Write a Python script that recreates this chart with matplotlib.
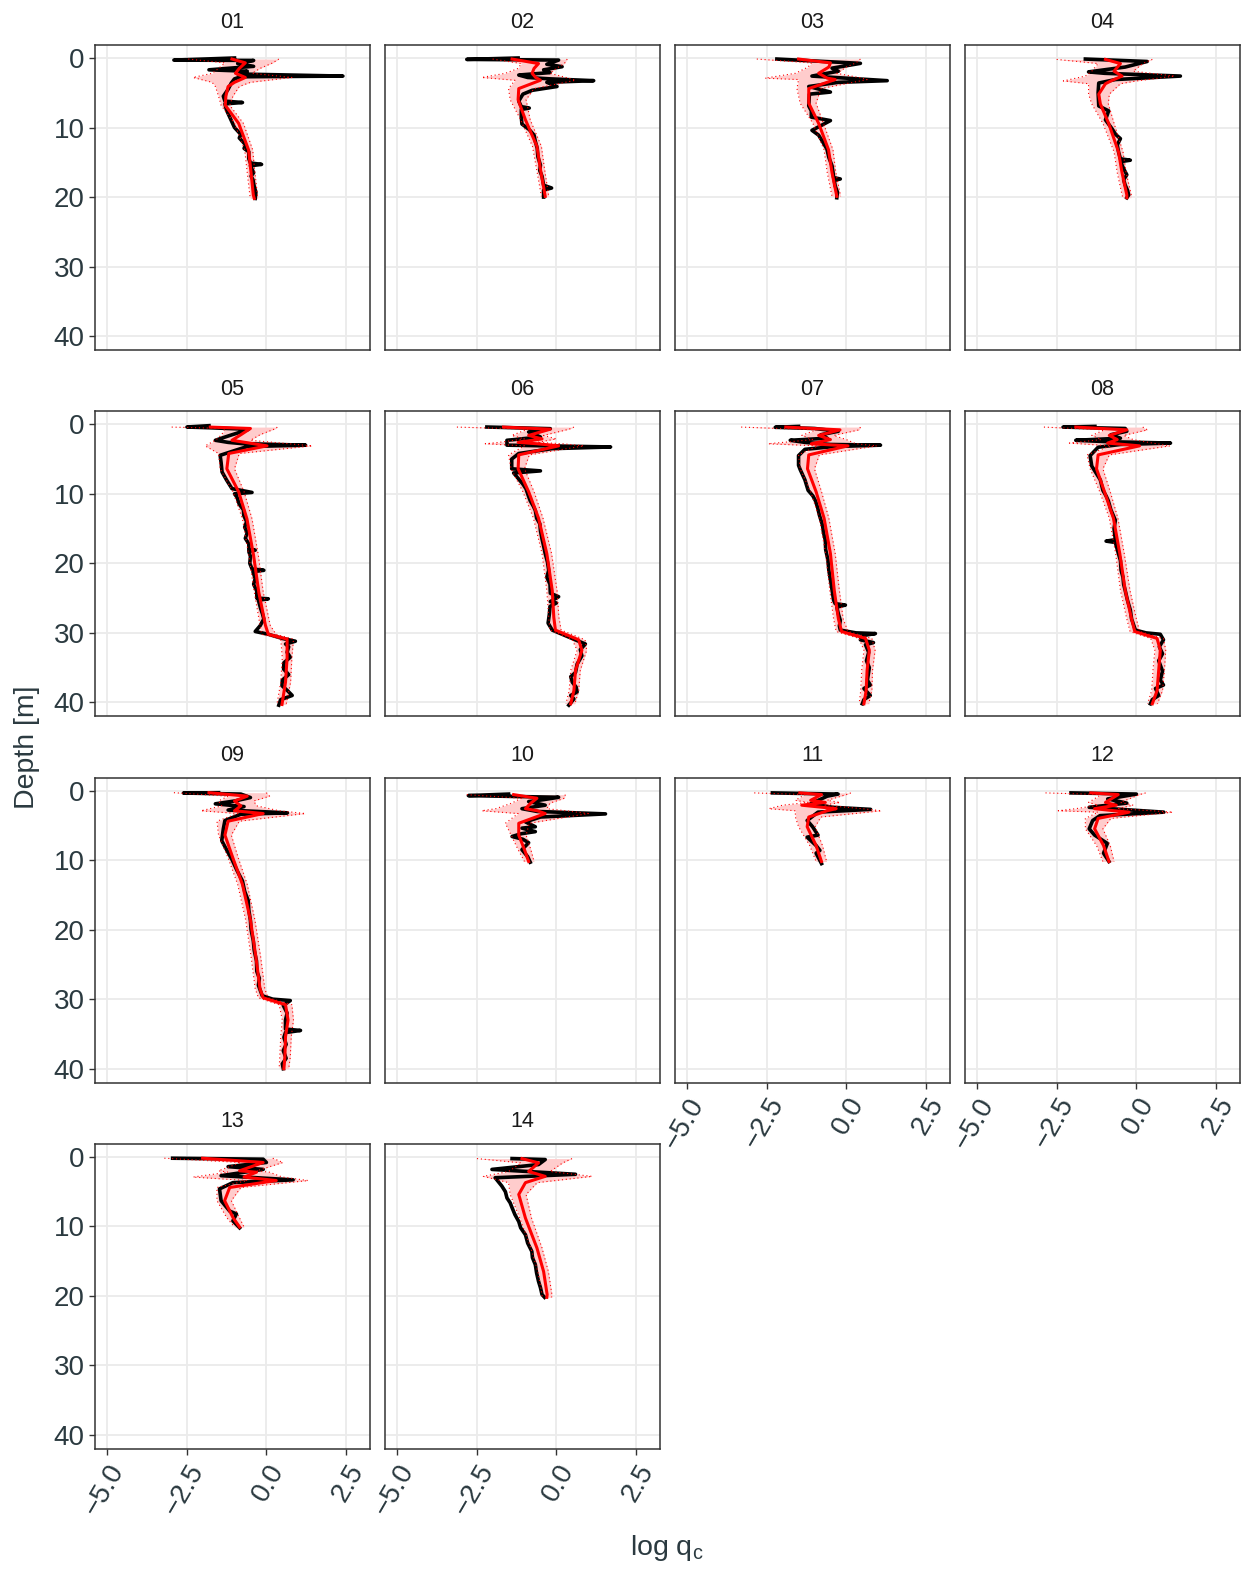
import matplotlib.pyplot as plt

plt.rcParams['font.family'] = ['Liberation Sans', 'DejaVu Sans']

panels = ['01', '02', '03', '04', '05', '06', '07', '08', '09', '10', '11', '12', '13', '14']

# measured log qc (black) -- depth [m], value
d01 = [0.0, 0.3, 0.35, 0.8, 1.2, 1.7, 1.9, 2.3, 2.6, 2.7, 3.0, 3.6, 4.5, 5.5, 6.2, 6.4, 6.6, 7.5, 8.5, 10.0, 11.0, 11.5, 12.5, 13.0, 13.5, 14.5, 15.1, 15.3, 15.5, 16.5, 17.0, 17.5, 18.5, 19.3, 20.2]
q01 = [-1.0, -2.9, -0.4, -0.9, -0.4, -1.8, -0.6, -0.9, 2.4, -0.8, -1.0, -1.1, -1.2, -1.35, -1.3, -0.75, -1.3, -1.25, -1.15, -1.0, -0.8, -0.85, -0.65, -0.7, -0.55, -0.55, -0.5, -0.15, -0.5, -0.4, -0.48, -0.42, -0.38, -0.33, -0.35]
d02 = [0.0, 0.2, 0.3, 0.9, 1.25, 1.7, 2.1, 2.45, 2.8, 3.0, 3.26, 3.5, 4.1, 4.65, 5.2, 6.2, 7.0, 7.2, 7.4, 8.5, 9.5, 10.3, 11.1, 12.0, 13.0, 14.2, 15.4, 16.2, 17.0, 18.3, 18.7, 19.0, 20.0]
q02 = [-1.2, -2.81, 0.07, -0.3, 0.18, -0.4, -0.2, -1.18, -0.9, -0.2, 1.17, -0.3, 0.02, -0.76, -1.05, -1.18, -1.1, -0.85, -1.1, -1.1, -1.08, -0.85, -0.7, -0.66, -0.6, -0.58, -0.5, -0.52, -0.45, -0.4, -0.15, -0.4, -0.4]
d03 = [0.15, 0.77, 1.46, 1.9, 2.6, 3.26, 3.5, 4.1, 4.9, 5.2, 6.9, 7.6, 8.5, 9.0, 9.9, 10.4, 11.1, 12.0, 13.1, 14.3, 15.5, 16.4, 17.2, 17.4, 17.6, 18.4, 19.3, 20.1]
q03 = [-2.18, 0.44, -0.45, -0.25, -1.08, 1.28, -0.25, -1.18, -0.5, -1.16, -1.18, -1.1, -1.1, -0.5, -0.87, -1.08, -0.87, -0.75, -0.61, -0.55, -0.45, -0.42, -0.4, -0.19, -0.38, -0.35, -0.28, -0.3]
d04 = [0.15, 0.5, 1.3, 2.0, 2.2, 2.6, 3.1, 3.6, 5.0, 6.9, 7.6, 8.9, 10.2, 11.0, 11.6, 12.5, 13.5, 14.5, 14.7, 14.9, 15.4, 16.1, 16.8, 17.5, 18.3, 19.0, 19.7, 20.1]
q04 = [-1.6, 0.34, -0.35, -1.5, -1.0, 1.38, -0.66, -1.18, -1.2, -1.18, -0.87, -0.97, -0.76, -0.65, -0.5, -0.6, -0.56, -0.5, -0.19, -0.48, -0.45, -0.38, -0.3, -0.4, -0.35, -0.28, -0.24, -0.3]
d05 = [0.2, 0.39, 0.5, 0.72, 1.1, 1.58, 2.3, 2.6, 2.78, 3.0, 3.2, 3.74, 4.46, 5.5, 6.86, 8.0, 9.25, 9.8, 10.0, 10.5, 11.5, 12.3, 13.1, 14.0, 14.8, 15.6, 16.4, 17.2, 18.0, 18.1, 18.3, 19.0, 20.0, 20.8, 21.0, 21.2, 22.2, 23.0, 24.0, 25.0, 25.1, 25.3, 26.5, 27.3, 28.0, 29.0, 29.8, 30.2, 30.8, 31.2, 31.6, 32.0, 32.8, 33.5, 34.3, 35.2, 36.0, 36.8, 37.6, 38.3, 39.0, 39.6, 40.4]
q05 = [-1.8, -2.49, -1.76, -0.56, -0.8, -1.13, -1.6, -1.2, -0.76, 1.23, -0.6, -0.97, -1.45, -1.42, -1.39, -1.25, -1.08, -0.45, -1.0, -0.92, -0.85, -0.72, -0.71, -0.62, -0.68, -0.6, -0.66, -0.55, -0.55, -0.35, -0.55, -0.5, -0.52, -0.45, -0.08, -0.42, -0.35, -0.4, -0.3, -0.3, 0.06, -0.25, -0.18, -0.12, -0.08, -0.2, -0.35, 0.06, 0.5, 0.91, 0.6, 0.7, 0.65, 0.75, 0.55, 0.54, 0.7, 0.5, 0.49, 0.66, 0.81, 0.45, 0.39]
d06 = [0.39, 0.63, 1.1, 1.82, 2.3, 3.0, 3.26, 3.5, 4.2, 5.0, 6.4, 6.7, 7.0, 8.6, 9.3, 10.0, 11.0, 11.8, 12.4, 13.5, 14.3, 15.3, 16.5, 17.5, 18.6, 19.8, 21.0, 22.0, 23.0, 24.3, 24.8, 25.5, 25.7, 26.2, 27.3, 28.6, 29.6, 30.8, 31.6, 32.4, 33.3, 34.5, 35.7, 36.3, 37.1, 37.8, 38.5, 39.0, 39.5, 40.4]
q06 = [-2.18, -0.19, -0.87, -0.5, -1.55, -1.55, 1.7, -0.13, -1.18, -1.4, -1.4, -0.5, -1.34, -1.05, -0.95, -0.9, -0.82, -0.72, -0.66, -0.62, -0.52, -0.5, -0.45, -0.4, -0.35, -0.28, -0.24, -0.3, -0.2, -0.19, 0.07, -0.19, 0.0, -0.2, -0.22, -0.26, -0.13, 0.49, 0.91, 0.75, 0.8, 0.65, 0.6, 0.45, 0.5, 0.62, 0.65, 0.45, 0.55, 0.39]
d07 = [0.3, 0.43, 0.6, 1.0, 1.5, 2.0, 2.3, 2.6, 2.9, 3.0, 3.2, 3.6, 4.5, 5.9, 6.5, 8.0, 9.5, 10.3, 11.0, 12.0, 13.0, 14.5, 15.5, 16.7, 18.0, 19.5, 21.0, 22.4, 23.8, 25.3, 25.8, 26.0, 26.3, 27.3, 28.2, 29.0, 29.6, 30.0, 30.1, 30.4, 31.0, 31.4, 31.7, 32.8, 34.0, 35.0, 36.8, 37.5, 38.0, 39.0, 39.6, 40.2]
q07 = [-1.5, -2.23, -1.0, -0.25, -0.8, -0.6, -1.76, -1.3, -0.5, 1.07, -0.4, -1.3, -1.5, -1.5, -1.45, -1.3, -1.2, -1.05, -0.97, -0.9, -0.85, -0.75, -0.72, -0.66, -0.65, -0.58, -0.55, -0.5, -0.45, -0.4, -0.35, -0.03, -0.3, -0.25, -0.19, -0.22, -0.19, 0.3, 0.91, 0.5, 0.44, 0.85, 0.6, 0.7, 0.63, 0.72, 0.66, 0.75, 0.55, 0.75, 0.55, 0.5]
d08 = [0.3, 0.4, 0.6, 1.0, 1.5, 2.0, 2.3, 2.5, 2.7, 2.9, 3.3, 4.5, 6.0, 8.0, 9.5, 10.3, 11.0, 12.3, 13.8, 15.0, 16.6, 16.8, 17.0, 18.3, 19.6, 21.0, 22.0, 23.0, 23.9, 25.3, 26.7, 28.0, 29.6, 30.0, 30.2, 31.0, 32.0, 33.0, 34.0, 35.5, 36.8, 37.5, 38.0, 39.0, 39.6, 40.2]
q08 = [-1.3, -2.3, -0.35, -0.3, -0.8, -0.5, -1.9, -0.9, 1.07, -0.5, -1.2, -1.45, -1.4, -1.13, -1.05, -0.95, -0.88, -0.8, -0.66, -0.7, -0.66, -0.95, -0.66, -0.58, -0.5, -0.48, -0.42, -0.4, -0.35, -0.28, -0.19, -0.15, -0.03, 0.3, 0.75, 0.85, 0.72, 0.82, 0.7, 0.82, 0.75, 0.85, 0.6, 0.7, 0.5, 0.44]
d09 = [0.3, 0.35, 0.5, 1.0, 1.5, 1.9, 2.3, 2.8, 3.2, 3.4, 4.3, 5.5, 7.2, 8.5, 10.0, 11.5, 13.0, 14.5, 15.8, 17.2, 18.7, 20.0, 21.6, 23.0, 24.5, 26.0, 27.0, 28.0, 29.5, 30.0, 30.2, 30.9, 32.0, 33.0, 34.3, 34.5, 34.8, 35.5, 36.5, 37.4, 38.5, 39.3, 40.0]
q09 = [-1.5, -2.6, -0.8, -0.5, -1.0, -1.6, -0.7, -1.2, 0.66, -0.8, -1.3, -1.35, -1.4, -1.25, -1.07, -0.92, -0.75, -0.68, -0.57, -0.55, -0.5, -0.48, -0.41, -0.38, -0.31, -0.3, -0.22, -0.25, -0.13, 0.2, 0.75, 0.53, 0.65, 0.6, 0.6, 1.07, 0.6, 0.55, 0.62, 0.53, 0.62, 0.5, 0.53]
d10 = [0.5, 0.72, 0.96, 1.3, 1.58, 2.1, 2.6, 3.0, 3.35, 3.8, 4.5, 5.2, 5.4, 5.9, 6.2, 6.6, 7.0, 7.5, 8.5, 9.5, 10.3]
q10 = [-1.5, -2.76, 0.07, -0.4, -0.87, -0.35, -1.08, -0.6, 1.54, -0.5, -0.97, -0.66, -1.08, -0.66, -1.1, -1.39, -1.05, -0.87, -1.08, -0.9, -0.82]
d11 = [0.33, 0.5, 0.8, 1.9, 2.4, 2.7, 3.1, 4.3, 5.2, 6.4, 6.7, 7.9, 8.6, 9.0, 10.5]
q11 = [-2.32, -0.26, -0.6, -1.12, -0.43, 0.76, -0.89, -1.23, -1.06, -0.89, -1.23, -0.95, -0.83, -0.95, -0.78]
d12 = [0.33, 0.5, 1.2, 1.8, 2.4, 3.1, 3.6, 4.3, 5.5, 6.4, 7.6, 9.0, 10.2]
q12 = [-2.05, 0.0, -0.9, -0.3, -1.48, 0.86, -1.14, -1.37, -1.48, -1.31, -0.91, -1.03, -0.86]
d13 = [0.19, 0.33, 0.8, 1.4, 1.8, 2.7, 3.3, 3.7, 4.6, 6.3, 7.8, 8.2, 9.2, 10.2]
q13 = [-2.94, -0.1, 0.0, -1.2, -0.1, -1.42, 0.84, -1.05, -1.47, -1.42, -1.15, -0.94, -1.05, -0.84]
d14 = [0.24, 0.38, 1.1, 1.8, 2.5, 3.0, 4.2, 5.0, 5.9, 6.6, 7.3, 8.3, 9.3, 10.2, 11.2, 12.4, 13.6, 14.5, 15.5, 16.7, 17.9, 18.8, 19.8, 20.2]
q14 = [-1.39, -0.35, -0.56, -2.02, 0.6, -1.92, -1.71, -1.6, -1.55, -1.45, -1.39, -1.3, -1.18, -1.12, -0.97, -0.9, -0.77, -0.75, -0.66, -0.62, -0.56, -0.5, -0.45, -0.37]

# predicted mean (red) with lower / upper band
md01 = [0.15, 0.7, 1.5, 2.2, 2.8, 3.5, 4.1, 5.5, 6.8, 9.4, 13.2, 16.5, 19.7, 20.2]
mu01 = [-1.08, -0.66, -0.85, -0.97, -0.66, -1.0, -1.2, -1.27, -1.29, -0.87, -0.56, -0.48, -0.41, -0.38]
lo01 = [-2.45, -1.3, -1.5, -1.7, -2.3, -1.7, -1.6, -1.5, -1.42, -1.0, -0.68, -0.6, -0.52, -0.5]
hi01 = [0.39, 0.2, -0.2, -0.45, 0.8, -0.5, -0.85, -1.05, -1.15, -0.72, -0.43, -0.36, -0.28, -0.27]
md02 = [0.15, 0.8, 1.5, 2.2, 2.8, 3.2, 4.4, 6.0, 8.9, 12.7, 16.0, 19.9]
mu02 = [-1.39, -0.56, -0.7, -0.76, -0.65, -0.5, -1.18, -1.2, -0.97, -0.61, -0.5, -0.35]
lo02 = [-2.0, -1.1, -1.2, -1.6, -2.34, -1.3, -1.5, -1.45, -1.12, -0.75, -0.62, -0.47]
hi02 = [0.34, 0.25, 0.0, -0.2, 0.3, 0.6, -0.7, -0.95, -0.82, -0.47, -0.37, -0.24]
md03 = [0.15, 0.7, 1.3, 2.2, 2.9, 3.1, 4.4, 6.5, 9.4, 13.2, 16.5, 19.9]
mu03 = [-1.5, -0.5, -0.55, -0.87, -0.6, -0.35, -1.18, -1.18, -0.87, -0.56, -0.45, -0.3]
lo03 = [-2.81, -1.1, -1.2, -1.6, -2.55, -1.5, -1.55, -1.45, -1.05, -0.7, -0.6, -0.45]
hi03 = [0.44, 0.3, 0.0, -0.3, 0.5, 0.65, -0.8, -0.95, -0.72, -0.42, -0.33, -0.18]
md04 = [0.2, 0.8, 1.9, 2.6, 3.3, 3.7, 5.2, 6.6, 9.4, 13.5, 16.5, 19.7, 20.1]
mu04 = [-0.97, -0.5, -0.7, -0.45, -0.8, -0.97, -1.18, -1.13, -0.87, -0.56, -0.45, -0.3, -0.3]
lo04 = [-2.5, -1.2, -1.4, -1.6, -2.29, -1.5, -1.5, -1.4, -1.05, -0.7, -0.6, -0.45, -0.42]
hi04 = [0.5, 0.2, -0.1, 1.2, 0.0, -0.5, -0.85, -0.88, -0.7, -0.42, -0.32, -0.16, -0.17]
md05 = [0.4, 0.6, 1.5, 2.3, 3.1, 4.2, 6.4, 9.7, 13.6, 18.9, 24.1, 28.9, 30.2, 30.9, 33.6, 37.1, 40.3]
mu05 = [-1.76, -0.5, -0.8, -1.08, 0.02, -1.18, -1.24, -0.87, -0.61, -0.4, -0.24, -0.03, 0.06, 0.65, 0.65, 0.6, 0.49]
lo05 = [-2.97, -1.3, -1.4, -1.6, -1.92, -1.5, -1.45, -1.05, -0.75, -0.55, -0.38, -0.2, -0.15, 0.45, 0.5, 0.45, 0.33]
hi05 = [0.34, 0.3, -0.2, -0.5, 1.44, -0.85, -1.0, -0.7, -0.45, -0.25, -0.1, 0.12, 0.3, 0.85, 0.8, 0.76, 0.62]
md06 = [0.4, 0.7, 1.6, 2.1, 2.6, 2.8, 3.1, 4.4, 6.4, 9.7, 13.5, 18.6, 23.9, 27.8, 29.6, 31.0, 32.5, 35.4, 38.3, 40.2]
mu06 = [-1.66, -0.19, -0.87, -0.45, -1.2, -0.6, 0.07, -1.18, -1.2, -0.87, -0.56, -0.3, -0.13, -0.08, -0.03, 0.7, 0.8, 0.6, 0.55, 0.45]
lo06 = [-3.12, -0.9, -1.4, -1.0, -1.8, -2.23, -1.0, -1.5, -1.42, -1.05, -0.72, -0.45, -0.3, -0.24, -0.2, 0.5, 0.65, 0.45, 0.4, 0.3]
hi06 = [0.55, 0.4, -0.4, 0.0, -0.6, 0.2, 0.86, -0.85, -1.0, -0.7, -0.42, -0.15, 0.02, 0.08, 0.15, 0.9, 0.95, 0.75, 0.7, 0.58]
md07 = [0.4, 0.8, 1.6, 2.2, 2.8, 3.1, 4.4, 6.4, 9.7, 13.5, 18.6, 23.9, 28.0, 29.8, 30.8, 32.5, 35.4, 38.3, 40.2]
mu07 = [-1.9, -0.2, -0.87, -0.5, -1.1, 0.05, -1.18, -1.22, -0.95, -0.7, -0.5, -0.38, -0.25, -0.15, 0.6, 0.72, 0.65, 0.62, 0.55]
lo07 = [-3.3, -0.95, -1.4, -1.05, -2.45, -0.9, -1.5, -1.45, -1.12, -0.85, -0.65, -0.52, -0.4, -0.32, 0.4, 0.55, 0.48, 0.45, 0.4]
hi07 = [0.44, 0.4, -0.4, 0.0, 0.3, 0.95, -0.85, -1.0, -0.78, -0.55, -0.35, -0.22, -0.1, 0.05, 0.8, 0.9, 0.82, 0.8, 0.7]
md08 = [0.4, 0.8, 1.6, 2.2, 2.7, 3.1, 4.4, 6.4, 9.7, 13.5, 18.6, 23.9, 28.0, 29.8, 30.8, 32.5, 35.4, 38.3, 40.2]
mu08 = [-1.9, -0.3, -0.85, -0.6, -0.9, 0.1, -1.2, -1.25, -1.0, -0.72, -0.52, -0.35, -0.15, -0.05, 0.65, 0.75, 0.7, 0.65, 0.5]
lo08 = [-2.9, -1.0, -1.4, -1.1, -2.1, -0.8, -1.55, -1.45, -1.15, -0.85, -0.65, -0.5, -0.3, -0.2, 0.45, 0.58, 0.52, 0.48, 0.35]
hi08 = [0.2, 0.35, -0.4, -0.1, 0.5, 1.05, -0.85, -1.05, -0.82, -0.58, -0.38, -0.2, 0.0, 0.1, 0.85, 0.92, 0.88, 0.82, 0.66]
md09 = [0.3, 0.8, 1.5, 2.2, 2.9, 3.3, 4.4, 6.4, 9.7, 13.5, 18.6, 23.9, 28.5, 29.8, 30.8, 33.0, 35.4, 38.3, 40.0]
mu09 = [-1.8, -0.6, -1.0, -0.8, -1.0, -0.1, -1.2, -1.3, -1.05, -0.75, -0.5, -0.33, -0.2, -0.1, 0.6, 0.68, 0.6, 0.58, 0.55]
lo09 = [-2.9, -1.2, -1.5, -1.4, -2.05, -0.9, -1.55, -1.5, -1.2, -0.9, -0.65, -0.48, -0.35, -0.25, 0.4, 0.5, 0.45, 0.42, 0.4]
hi09 = [0.0, 0.1, -0.4, -0.3, 0.4, 1.22, -0.85, -1.1, -0.88, -0.6, -0.36, -0.18, -0.05, 0.05, 0.8, 0.85, 0.78, 0.75, 0.7]
md10 = [0.58, 1.1, 1.8, 2.6, 2.9, 3.3, 4.7, 6.4, 8.5, 10.2]
mu10 = [-1.34, -0.61, -0.8, -0.97, -0.6, -0.35, -1.18, -1.18, -1.0, -0.87]
lo10 = [-2.81, -1.1, -1.4, -1.9, -2.34, -1.2, -1.6, -1.42, -1.2, -1.0]
hi10 = [0.28, 0.25, -0.2, -0.3, 0.3, 1.0, -0.85, -0.95, -0.8, -0.7]
md11 = [0.33, 0.57, 1.4, 1.7, 2.1, 2.6, 2.9, 3.8, 5.2, 7.9, 10.2]
mu11 = [-1.46, -0.78, -1.12, -0.66, -1.4, -0.32, -0.6, -1.18, -1.23, -0.95, -0.78]
lo11 = [-2.89, -1.3, -1.6, -1.2, -2.0, -2.43, -1.6, -1.6, -1.5, -1.15, -0.95]
hi11 = [0.14, 0.0, -0.6, -0.2, -0.7, 0.5, 1.1, -0.8, -0.98, -0.75, -0.62]
md12 = [0.33, 0.57, 1.7, 2.1, 2.6, 2.9, 3.1, 4.0, 5.5, 7.9, 10.2]
mu12 = [-1.43, -0.57, -0.97, -0.63, -1.31, -0.7, -0.23, -1.2, -1.31, -1.03, -0.86]
lo12 = [-2.85, -1.1, -1.5, -1.2, -1.9, -2.45, -1.2, -1.6, -1.6, -1.25, -1.05]
hi12 = [0.29, 0.1, -0.5, -0.1, -0.6, 0.5, 1.14, -0.8, -1.05, -0.82, -0.7]
md13 = [0.19, 0.8, 2.0, 2.2, 2.9, 3.4, 4.4, 6.3, 8.7, 10.1]
mu13 = [-2.0, -0.1, -0.84, -0.31, -0.7, 0.31, -1.15, -1.31, -1.05, -0.84]
lo13 = [-3.2, -0.8, -1.5, -1.2, -2.3, -0.6, -1.55, -1.55, -1.25, -1.0]
hi13 = [0.2, 0.52, -0.3, 0.1, 0.5, 1.31, -0.8, -1.1, -0.85, -0.7]
md14 = [0.24, 0.86, 2.1, 2.8, 3.7, 5.4, 8.8, 13.1, 16.5, 19.8, 20.2]
mu14 = [-1.08, -0.56, -0.87, -0.35, -0.97, -1.18, -0.97, -0.61, -0.4, -0.29, -0.3]
lo14 = [-2.49, -1.1, -1.5, -2.29, -1.5, -1.45, -1.15, -0.8, -0.58, -0.45, -0.45]
hi14 = [0.49, 0.2, -0.2, 1.12, -0.6, -0.95, -0.78, -0.45, -0.25, -0.14, -0.15]

profiles = {
    '01': (d01, q01, md01, mu01, lo01, hi01),
    '02': (d02, q02, md02, mu02, lo02, hi02),
    '03': (d03, q03, md03, mu03, lo03, hi03),
    '04': (d04, q04, md04, mu04, lo04, hi04),
    '05': (d05, q05, md05, mu05, lo05, hi05),
    '06': (d06, q06, md06, mu06, lo06, hi06),
    '07': (d07, q07, md07, mu07, lo07, hi07),
    '08': (d08, q08, md08, mu08, lo08, hi08),
    '09': (d09, q09, md09, mu09, lo09, hi09),
    '10': (d10, q10, md10, mu10, lo10, hi10),
    '11': (d11, q11, md11, mu11, lo11, hi11),
    '12': (d12, q12, md12, mu12, lo12, hi12),
    '13': (d13, q13, md13, mu13, lo13, hi13),
    '14': (d14, q14, md14, mu14, lo14, hi14),
}

x_ticks = [-5.0, -2.5, 0.0, 2.5]
x_tick_labels = ['\u22125.0', '\u22122.5', '0.0', '2.5']
y_ticks = [0, 10, 20, 30, 40]

W, H = 1247, 1572
fig = plt.figure(figsize=(W / 100, H / 100), dpi=100)
txt_col = '#2b3a40'

for i, key in enumerate(panels):
    r, c = divmod(i, 4)
    left = 95 + 290 * c
    top = 45 + 366.3 * r
    ax = fig.add_axes([left / W, 1 - (top + 305) / H, 275 / W, 305 / H])
    d, q, md, mu, lo, hi = profiles[key]

    ax.fill_betweenx(md, lo, hi, color='#ffcccc', lw=0, zorder=2)
    ax.plot(q, d, color='black', lw=2.6, zorder=3)
    ax.plot(mu, md, color='red', lw=2.2, zorder=4)
    ax.plot(lo, md, color='red', lw=0.8, ls=(0, (1, 2.5)), zorder=5)
    ax.plot(hi, md, color='red', lw=0.8, ls=(0, (1, 2.5)), zorder=5)

    ax.set_xlim(-5.375, 3.25)
    ax.set_ylim(42.0, -1.87)
    ax.set_xticks(x_ticks)
    ax.set_yticks(y_ticks)
    ax.grid(color='#ebebeb', lw=1.3)
    ax.set_axisbelow(True)
    for s in ax.spines.values():
        s.set_color('#333333')
        s.set_linewidth(1.1)
    ax.tick_params(length=4.5, width=1.0, color='#333333', labelsize=20,
                   labelcolor=txt_col, pad=3)

    if c == 0:
        ax.set_yticklabels([str(v) for v in y_ticks])
    else:
        ax.set_yticklabels([])
        ax.tick_params(axis='y', length=0)
    if i >= 10 or (r == 2 and c >= 2):
        ax.set_xticklabels(x_tick_labels, rotation=60, ha='right', va='top',
                           rotation_mode='anchor')
    else:
        ax.set_xticklabels([])
        ax.tick_params(axis='x', length=0)

    ax.set_title(key, fontsize=15.5, color='#1a1a1a', pad=12)

fig.text(667 / W, 1 - 1548 / H, 'log q$_\\mathregular{c}$', fontsize=20.5,
         color=txt_col, ha='center', va='center')
fig.text(27 / W, 1 - 747 / H, 'Depth [m]', fontsize=20.5, color=txt_col,
         rotation=90, ha='center', va='center')

fig.savefig('out.png', dpi=100)
